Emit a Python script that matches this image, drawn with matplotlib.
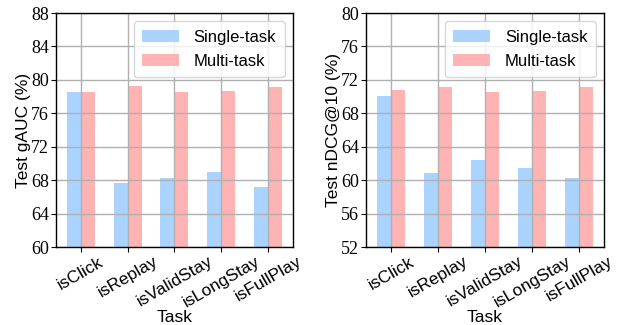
import matplotlib
matplotlib.use("Agg")
import matplotlib.pyplot as plt
import numpy as np

tasks = ["isClick", "isReplay", "isValidStay", "isLongStay", "isFullPlay"]
gauc_single = [78.6, 67.6, 68.3, 69.0, 67.2]
gauc_multi = [78.6, 79.3, 78.6, 78.7, 79.2]
ndcg_single = [70.1, 60.8, 62.45, 61.4, 60.2]
ndcg_multi = [70.8, 71.2, 70.6, 70.7, 71.2]

blue = "#aad4ff"
pink = "#ffb3b3"
sans = "Liberation Sans"
serif = "Liberation Serif"

fig = plt.figure(figsize=(6.25, 3.25), dpi=100)
ax1 = fig.add_axes([0.0896, 0.24, 0.379, 0.72])
ax2 = fig.add_axes([0.5856, 0.24, 0.381, 0.72])

def draw(ax, single, multi, ylim, yticks, ylabel):
    x = np.arange(len(tasks))
    w = 0.3
    ax.bar(x - w / 2, single, w, color=blue, label="Single-task", zorder=1)
    ax.bar(x + w / 2, multi, w, color=pink, label="Multi-task", zorder=1)
    ax.set_ylim(*ylim)
    ax.set_yticks(yticks)
    ax.set_yticklabels([str(t) for t in yticks], fontfamily=serif, fontsize=13)
    ax.set_xticks(x)
    ax.set_xticklabels(tasks, rotation=30, ha="center",
                       fontfamily=sans, fontsize=12.5)
    ax.set_axisbelow(False)
    ax.grid(True, color="#b0b0b0", linewidth=1, zorder=2)
    ax.set_xlabel("Task", fontfamily=sans, fontsize=12.5, labelpad=0)
    ax.set_ylabel(ylabel, fontfamily=sans, fontsize=12.5, labelpad=0)
    ax.tick_params(axis="both", length=3.5, width=0.8, pad=1.5)
    for s in ax.spines.values():
        s.set_linewidth(1.0)
        s.set_zorder(3)
    leg = ax.legend(loc="upper right", prop={"family": sans, "size": 12},
                    handlelength=2.2, handleheight=0.75, labelspacing=0.55,
                    handletextpad=0.9, borderpad=0.5, framealpha=0.8,
                    edgecolor="#cccccc")
    leg.set_zorder(5)

draw(ax1, gauc_single, gauc_multi, (60, 88), [60, 64, 68, 72, 76, 80, 84, 88], "Test gAUC (%)")
draw(ax2, ndcg_single, ndcg_multi, (52, 80), [52, 56, 60, 64, 68, 72, 76, 80], "Test nDCG@10 (%)")

fig.savefig("out.png", dpi=100)
